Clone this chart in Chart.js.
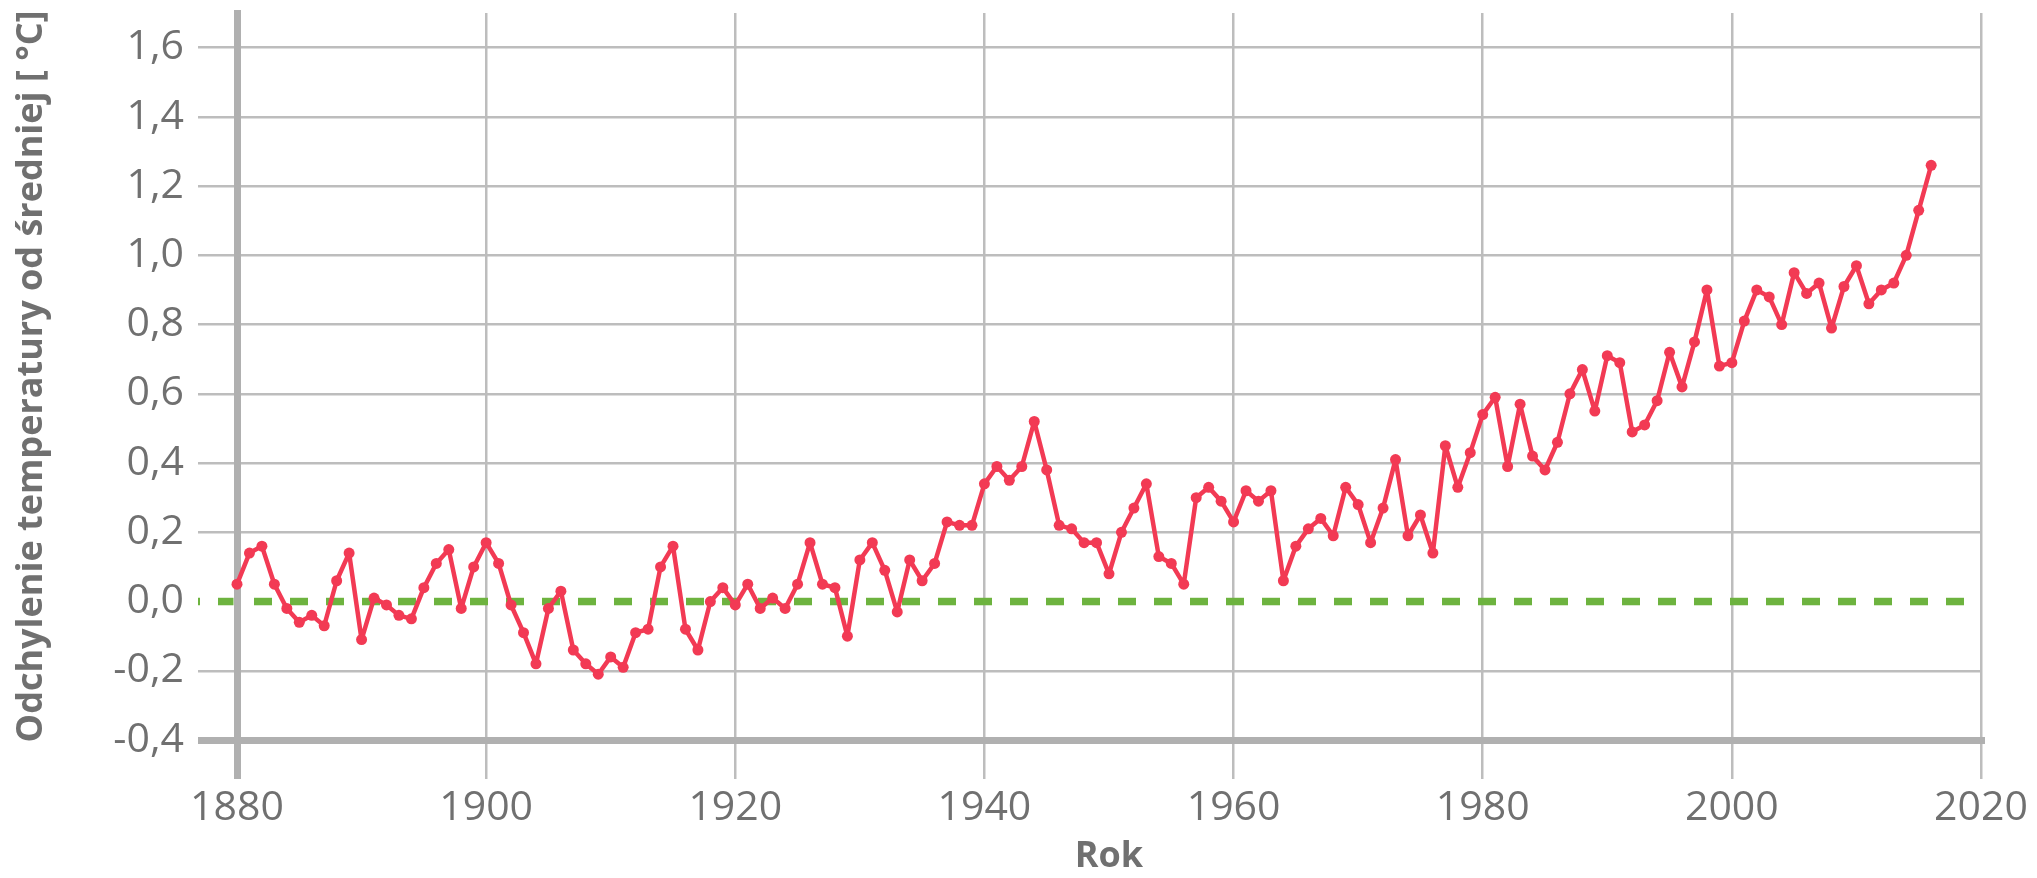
<!DOCTYPE html>
<html lang="pl">
<head>
<meta charset="utf-8">
<title>Odchylenie temperatury od średniej</title>
<script src="https://cdn.jsdelivr.net/npm/chart.js@4/dist/chart.umd.min.js"></script>
<style>
  html, body { margin: 0; padding: 0; background: #fff; }
  #wrap { position: relative; width: 2037px; height: 878px; }
</style>
</head>
<body>
<div id="wrap"><canvas id="chart"></canvas></div>
<script>
// Annual temperature anomaly, one value per year from 1880
const FIRST_YEAR = 1880;
const anomaly = [
  0.05, 0.14, 0.16, 0.05, -0.02, -0.06, -0.04, -0.07, 0.06, 0.14,   // 1880s
  -0.11, 0.01, -0.01, -0.04, -0.05, 0.04, 0.11, 0.15, -0.02, 0.10,  // 1890s
  0.17, 0.11, -0.01, -0.09, -0.18, -0.02, 0.03, -0.14, -0.18, -0.21, // 1900s
  -0.16, -0.19, -0.09, -0.08, 0.10, 0.16, -0.08, -0.14, 0.00, 0.04,  // 1910s
  -0.01, 0.05, -0.02, 0.01, -0.02, 0.05, 0.17, 0.05, 0.04, -0.10,    // 1920s
  0.12, 0.17, 0.09, -0.03, 0.12, 0.06, 0.11, 0.23, 0.22, 0.22,       // 1930s
  0.34, 0.39, 0.35, 0.39, 0.52, 0.38, 0.22, 0.21, 0.17, 0.17,        // 1940s
  0.08, 0.20, 0.27, 0.34, 0.13, 0.11, 0.05, 0.30, 0.33, 0.29,        // 1950s
  0.23, 0.32, 0.29, 0.32, 0.06, 0.16, 0.21, 0.24, 0.19, 0.33,        // 1960s
  0.28, 0.17, 0.27, 0.41, 0.19, 0.25, 0.14, 0.45, 0.33, 0.43,        // 1970s
  0.54, 0.59, 0.39, 0.57, 0.42, 0.38, 0.46, 0.60, 0.67, 0.55,        // 1980s
  0.71, 0.69, 0.49, 0.51, 0.58, 0.72, 0.62, 0.75, 0.90, 0.68,        // 1990s
  0.69, 0.81, 0.90, 0.88, 0.80, 0.95, 0.89, 0.92, 0.79, 0.91,        // 2000s
  0.97, 0.86, 0.90, 0.92, 1.00, 1.13, 1.26,                          // 2010-2016
];
const years = anomaly.map((_, i) => FIRST_YEAR + i);

const X_TICKS = { min: 1880, max: 2020, step: 20 };
const Y_TICKS = { min: -0.4, max: 1.7, step: 0.2 };
const ZERO_LINE = 0;

const X_TITLE = 'Rok';
const Y_TITLE = 'Odchylenie temperatury od średniej [ °C]';

const RED = '#f23a54';
const GREEN = '#6db33f';
const GRID = '#bdbdbd';
const AXIS = '#b0b0b0';
const TEXT = '#707070';
const FONT = "'Open Sans', 'Noto Sans', sans-serif";

// Dashed green reference line at 0, kept under the y axis line
const zeroLine = {
  id: 'zeroLine',
  beforeDatasetsDraw(chart) {
    const { ctx, chartArea, scales: { y } } = chart;
    const py = y.getPixelForValue(ZERO_LINE);
    const x0 = y.right - y.options.grid.tickLength;
    const half = y.options.border.width / 2;
    ctx.save();
    ctx.beginPath();
    ctx.rect(0, 0, chartArea.left - half, chart.height);
    ctx.rect(chartArea.left + half, 0, chart.width, chart.height);
    ctx.clip();
    ctx.strokeStyle = GREEN;
    ctx.lineWidth = 7.5;
    ctx.setLineDash([18, 18]);
    ctx.lineDashOffset = 16;
    ctx.beginPath();
    ctx.moveTo(x0, py);
    ctx.lineTo(chartArea.right, py);
    ctx.stroke();
    ctx.restore();
  },
};

function tickFont() {
  return { family: FONT, size: 41 };
}

function titleFont() {
  return { family: FONT, size: 36, weight: 'bold', lineHeight: 1.2 };
}

function draw() {
  new Chart(document.getElementById('chart'), {
    type: 'line',
    data: {
      datasets: [{
        data: years.map((x, i) => ({ x, y: anomaly[i] })),
        borderColor: RED,
        backgroundColor: RED,
        borderWidth: 4.5,
        borderJoinStyle: 'round',
        borderCapStyle: 'round',
        pointRadius: 5.5,
        pointBorderWidth: 0,
        pointBackgroundColor: RED,
        tension: 0,
        clip: false,
      }],
    },
    options: {
      responsive: true,
      maintainAspectRatio: false,
      animation: false,
      layout: { padding: { top: 13, right: 56, bottom: 0, left: 0 } },
      plugins: {
        legend: { display: false },
        tooltip: { enabled: false },
      },
      scales: {
        x: {
          type: 'linear',
          min: X_TICKS.min,
          max: X_TICKS.max,
          afterFit: (s) => { s.height = 138; },
          grid: {
            color: (c) => (c.tick.value === X_TICKS.min ? AXIS : GRID),
            lineWidth: (c) => (c.tick.value === X_TICKS.min ? 7 : 2.5),
            tickLength: 39,
          },
          border: { color: AXIS, width: 7 },
          ticks: {
            stepSize: X_TICKS.step,
            color: TEXT,
            font: tickFont(),
            padding: 5,
            maxRotation: 0,
            autoSkip: false,
            callback: (v) => String(v),
          },
          title: {
            display: true,
            text: X_TITLE,
            color: TEXT,
            font: titleFont(),
            padding: 0,
          },
        },
        y: {
          min: Y_TICKS.min,
          max: Y_TICKS.max,
          afterFit: (s) => {
            s.width = 237;
            s.paddingTop = 0;
            s.paddingBottom = 0;
          },
          grid: {
            color: (c) => {
              if (c.tick.value === ZERO_LINE) return 'rgba(0,0,0,0)';
              return c.tick.value === Y_TICKS.min ? AXIS : GRID;
            },
            lineWidth: (c) => (c.tick.value === Y_TICKS.min ? 7 : 2.5),
            tickLength: 39,
          },
          border: { color: AXIS, width: 7 },
          ticks: {
            stepSize: Y_TICKS.step,
            includeBounds: false,
            color: TEXT,
            font: tickFont(),
            padding: 14,
            callback: (v) => v.toFixed(1).replace('.', ','),
          },
          title: {
            display: true,
            text: Y_TITLE,
            color: TEXT,
            font: titleFont(),
            padding: { top: 10, bottom: 0 },
          },
        },
      },
    },
    plugins: [zeroLine],
  });
}

if (document.fonts && document.fonts.load) {
  Promise.all([
    document.fonts.load("41px 'Open Sans'"),
    document.fonts.load("bold 36px 'Open Sans'"),
  ]).then(draw, draw);
} else {
  draw();
}
</script>
</body>
</html>
